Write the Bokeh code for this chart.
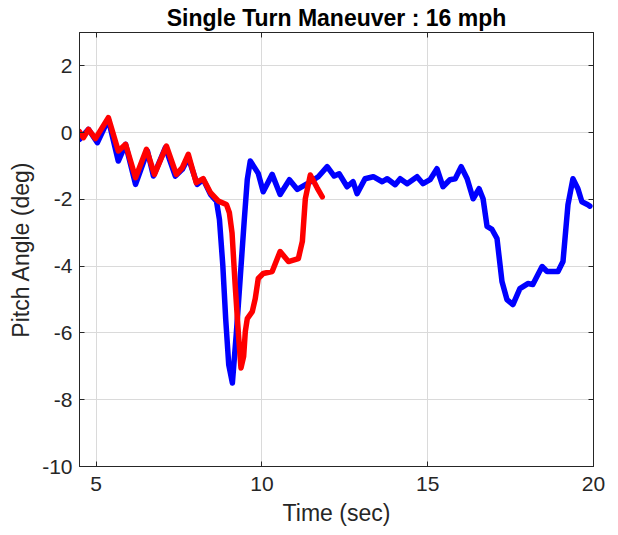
from bokeh.plotting import figure
from bokeh.models import LinearAxis, FixedTicker, Range1d, PrintfTickFormatter
from bokeh.embed import file_html
from bokeh.resources import INLINE

# ---- data ----
blue_t = [4.50, 4.77, 5.04, 5.37, 5.67, 5.89, 6.19, 6.55, 6.73, 7.09, 7.39, 7.60, 7.78,
          8.05, 8.23, 8.45, 8.63, 8.72, 8.82, 8.91, 9.00, 9.11, 9.23, 9.35, 9.47, 9.56,
          9.65, 9.89, 10.04, 10.31, 10.55, 10.83, 11.07, 11.37, 11.70, 11.97, 12.18,
          12.33, 12.57, 12.75, 12.87, 13.11, 13.36, 13.63, 13.78, 14.02, 14.17, 14.38,
          14.68, 14.86, 15.07, 15.28, 15.46, 15.67, 15.83, 16.01, 16.19, 16.37, 16.55,
          16.67, 16.79, 16.94, 17.09, 17.24, 17.39, 17.57, 17.78, 18.02, 18.17, 18.45,
          18.60, 18.93, 19.08, 19.23, 19.38, 19.53, 19.65, 19.83, 19.89]
blue_pitch = [-0.2, 0.1, -0.3, 0.4, -0.85, -0.35, -1.55, -0.55, -1.3, -0.45, -1.3, -1.1, -0.75,
              -1.55, -1.4, -1.85, -2.05, -2.6, -3.95, -5.6, -6.95, -7.5, -6.0, -4.3, -2.6, -1.4,
              -0.85, -1.22, -1.77, -1.25, -1.85, -1.41, -1.7, -1.53, -1.32, -1.02, -1.3,
              -1.23, -1.62, -1.47, -1.83, -1.38, -1.32, -1.47, -1.38, -1.56, -1.38, -1.53,
              -1.32, -1.53, -1.41, -1.08, -1.62, -1.41, -1.38, -1.02, -1.38, -1.98, -1.68,
              -1.98, -2.81, -2.90, -3.17, -4.46, -5.0, -5.15, -4.67, -4.52, -4.55, -4.01,
              -4.16, -4.16, -3.86, -2.16, -1.38, -1.68, -2.07, -2.16, -2.2]

red_t = [4.50, 4.62, 4.77, 4.98, 5.37, 5.67, 5.89, 6.19, 6.52, 6.76, 7.12, 7.42, 7.60, 7.78,
         8.02, 8.23, 8.45, 8.69, 8.93, 9.02, 9.10, 9.19, 9.29, 9.37, 9.45, 9.50, 9.56,
         9.71, 9.80, 9.89, 10.04, 10.31, 10.55, 10.80, 11.10, 11.22, 11.31, 11.46, 11.67, 11.82]
red_pitch = [0.03, -0.15, 0.1, -0.18, 0.45, -0.55, -0.35, -1.35, -0.5, -1.25, -0.4, -1.25, -1.05, -0.65,
             -1.5, -1.38, -1.8, -2.05, -2.15, -2.4, -3.0, -4.5, -6.0, -7.05, -6.7, -5.96, -5.57,
             -5.36, -4.97, -4.37, -4.22, -4.16, -3.56, -3.86, -3.77, -3.26, -1.98, -1.27, -1.66, -1.92]

x_ticks = [5, 10, 15, 20]
y_ticks = [-10, -8, -6, -4, -2, 0, 2]
x_lim = (4.5, 20)
y_lim = (-10, 3)

title_text = "Single Turn Maneuver : 16 mph"
x_label = "Time (sec)"
y_label = "Pitch Angle (deg)"

FONT = "Liberation Sans"
AX = "#262626"

p = figure(width=618, height=535, output_backend="svg", toolbar_location=None,
           x_range=Range1d(*x_lim), y_range=Range1d(*y_lim),
           min_border_left=79, min_border_right=25, min_border_top=30, min_border_bottom=69)

p.title.text = title_text
p.title.align = "center"
p.title.text_font = FONT
p.title.text_font_size = "23px"
p.title.text_font_style = "bold"
p.title.text_color = "#000000"
p.title.standoff = 4

p.background_fill_color = "white"
p.border_fill_color = "white"
p.outline_line_color = AX
p.outline_line_width = 1

for ax, ticks in ((p.xaxis[0], x_ticks), (p.yaxis[0], y_ticks)):
    ax.ticker = FixedTicker(ticks=ticks)
    ax.formatter = PrintfTickFormatter(format="%d")
    ax.major_label_text_font = FONT
    ax.major_label_text_font_size = "21px"
    ax.major_label_text_color = AX
    ax.axis_label_text_font = FONT
    ax.axis_label_text_font_size = "23px"
    ax.axis_label_text_font_style = "normal"
    ax.axis_label_text_color = AX
    ax.axis_line_color = AX
    ax.major_tick_line_color = AX
    ax.major_tick_in = 5
    ax.major_tick_out = 0
    ax.minor_tick_line_color = None

p.xaxis[0].axis_label = x_label
p.yaxis[0].axis_label = y_label
p.xaxis[0].major_label_standoff = 10
p.xaxis[0].axis_label_standoff = 6
p.yaxis[0].major_label_standoff = 7
p.yaxis[0].axis_label_standoff = 5

p.xgrid.ticker = FixedTicker(ticks=x_ticks)
p.ygrid.ticker = FixedTicker(ticks=y_ticks)
p.xgrid.grid_line_color = "#dadada"
p.ygrid.grid_line_color = "#dadada"

top = LinearAxis(ticker=FixedTicker(ticks=x_ticks), major_label_text_font_size="1px",
                 major_label_text_color=None,
                 major_label_standoff=0, major_tick_in=5, major_tick_out=0,
                 minor_tick_line_color=None, axis_line_color=AX, major_tick_line_color=AX)
right = LinearAxis(ticker=FixedTicker(ticks=y_ticks), major_label_text_font_size="1px",
                   major_label_text_color=None,
                   major_label_standoff=0, major_tick_in=5, major_tick_out=0,
                   minor_tick_line_color=None, axis_line_color=AX, major_tick_line_color=AX)
p.add_layout(top, "above")
p.add_layout(right, "right")

p.line(blue_t, blue_pitch, line_color="#0000FF", line_width=5.5, line_join="round", line_cap="round")
p.line(red_t, red_pitch, line_color="#FF0000", line_width=5.5, line_join="round", line_cap="round")

open("out.html", "w").write(file_html(p, INLINE))
